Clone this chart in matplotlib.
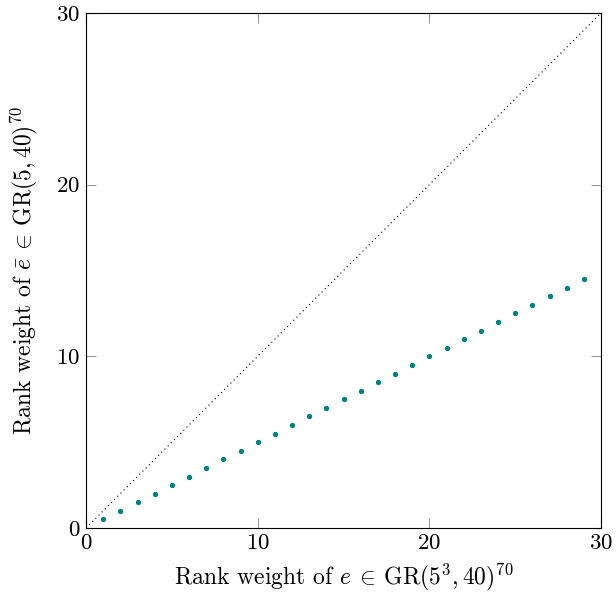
import matplotlib
matplotlib.use("Agg")
import matplotlib.pyplot as plt
import numpy as np

plt.rcParams['font.family'] = 'cmr10'
plt.rcParams['mathtext.fontset'] = 'cm'
plt.rcParams['axes.formatter.use_mathtext'] = True

x_vals = list(range(1, 30))
y_vals = [0.5, 1.0, 1.5, 2.0, 2.5, 3.0, 3.5, 4.0, 4.5, 5.0, 5.5, 6.0, 6.5, 7.0,
          7.5, 8.0, 8.5, 9.0, 9.5, 10.0, 10.5, 11.0, 11.5, 12.0, 12.5, 13.0,
          13.5, 14.0, 14.5]
diag = [0, 30]
ticks = [0, 10, 20, 30]

fig = plt.figure(figsize=(6.16, 5.94), dpi=100)
ax = fig.add_axes([86/616, 66/594, 515/616, 515/594])

ax.plot(diag, diag, color='black', linestyle=(0, (1, 3)), linewidth=0.8)
ax.scatter(x_vals, y_vals, s=8, color='#008080', zorder=3)

ax.set_xlim(0, 30)
ax.set_ylim(0, 30)
ax.set_xticks(ticks)
ax.set_yticks(ticks)
ax.tick_params(direction='in', length=7, width=0.8, color='#999999',
               top=True, right=True, labelsize=16.5, pad=4)
for s in ax.spines.values():
    s.set_linewidth(0.8)

ax.set_xlabel(r'Rank weight of $e\:\in\:\mathrm{GR}(5^3,40)^{70}$', fontsize=17, labelpad=6)
ax.set_ylabel(r'Rank weight of $\bar{e}\:\in\:\mathrm{GR}(5,40)^{70}$', fontsize=17, labelpad=12)

fig.savefig('out.png', dpi=100)
